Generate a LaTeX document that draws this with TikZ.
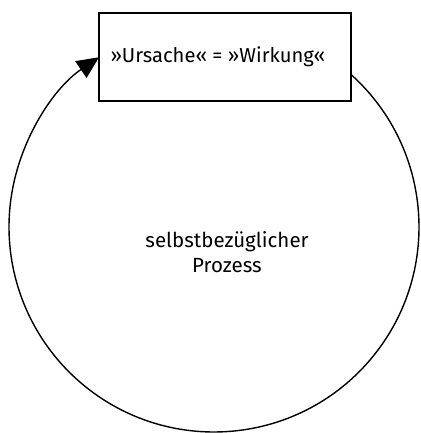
\documentclass[tikz,border=0pt]{standalone}
\usepackage{fontspec}
\setmainfont{Fira Sans}
\usetikzlibrary{arrows.meta, positioning}
\tikzset{
    cause box/.style={draw, line width=1.4pt, minimum width=252pt, minimum height=88pt},
    loop line/.style={line width=1.4pt, -{Triangle[length=22pt, width=20pt]}},
    loop label/.style={align=center, font=\fontsize{20.5}{25}\selectfont},
}
\begin{document}
\begin{tikzpicture}[x=1pt, y=1pt]
    \useasboundingbox (0,0) rectangle (420,433);
    \coordinate (hub) at (214,206);
    \node[cause box] (cause) at (225,376) {};
    \node[anchor=west, inner sep=0pt, font=\fontsize{20.2}{24}\selectfont] (cause text) at ([xshift=12pt]cause.west) {»Ursache« = »Wirkung«};
    % Kreis vom Kasten zurueck zum Kasten
    \draw[loop line] (hub) ++(48.1:205) arc[start angle=48.1, end angle=-235.9, radius=205];
    \node[loop label] (process) at (227,181) {selbstbezüglicher\\Prozess};
\end{tikzpicture}
\end{document}
